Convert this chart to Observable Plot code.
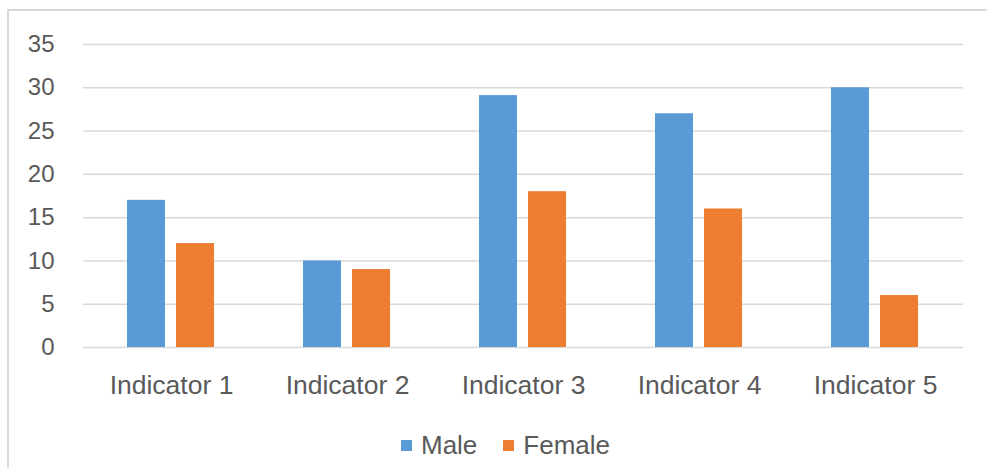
<!DOCTYPE html>
<html>
<head>
<meta charset="utf-8">
<script src="https://cdn.jsdelivr.net/npm/d3@7"></script>
<script src="https://cdn.jsdelivr.net/npm/@observablehq/plot@0.6"></script>
<style>
  html, body { margin: 0; padding: 0; background: #fff; }
  #wrap { position: relative; width: 987px; height: 468px; overflow: hidden; font-family: "Liberation Sans", Arial, sans-serif; }
  #frame { position: absolute; left: 7px; top: 9px; width: 990px; height: 470px; border-left: 2px solid #d9d9d9; border-top: 2px solid #d9d9d9; box-sizing: border-box; }
  #chart { position: absolute; left: 0; top: 0; }
  #chart g[aria-label^="fx-axis"] text { font-size: 26.5px; }
  #legend { position: absolute; left: 0; width: 987px; top: 430px; display: flex; justify-content: center; gap: 26px; font-size: 26px; color: #595959; padding-left: 24px; box-sizing: border-box;}
  .item { display: flex; align-items: center; gap: 9px; }
  .sw { width: 11px; height: 11px; display: inline-block; }
</style>
</head>
<body>
<div id="wrap">
  <div id="frame"></div>
  <div id="chart"></div>
  <div id="legend"></div>
</div>
<script>
const categories = ["Indicator 1", "Indicator 2", "Indicator 3", "Indicator 4", "Indicator 5"];
const series = ["Male", "Female"];
const maleValues = [17, 10, 29.1, 27, 30];
const femaleValues = [12, 9, 18, 16, 6];
const colors = ["#5b9bd5", "#ed7d31"];
const yTicks = [0, 5, 10, 15, 20, 25, 30, 35];

const data = [];
categories.forEach((c, i) => {
  data.push({category: c, series: "Male", value: maleValues[i]});
  data.push({category: c, series: "Female", value: femaleValues[i]});
});

const chart = Plot.plot({
  width: 987,
  height: 420,
  marginLeft: 83,
  marginRight: 24,
  marginTop: 44,
  marginBottom: 73,
  style: { fontFamily: "Liberation Sans, Arial, sans-serif", fontSize: "24px", color: "#595959", background: "transparent" },
  facet: { data, x: "category" },
  fx: { domain: categories, padding: 0, label: null, tickSize: 0, tickPadding: 28 },
  x: { domain: series, paddingInner: 0.22, paddingOuter: 0.88, axis: null },
  y: { domain: [0, 35], ticks: yTicks, tickSize: 0, tickPadding: 29, label: null },
  color: { domain: series, range: colors },
  marks: [
    Plot.ruleY(yTicks, { stroke: "#d9d9d9", strokeWidth: 1.5 }),
    Plot.barY(data, { x: "series", y: "value", fill: "series" })
  ]
});
document.getElementById("chart").appendChild(chart);

const legend = document.getElementById("legend");
series.forEach((s, i) => {
  const item = document.createElement("div");
  item.className = "item";
  const sw = document.createElement("span");
  sw.className = "sw";
  sw.style.background = colors[i];
  const t = document.createElement("span");
  t.textContent = s;
  item.appendChild(sw);
  item.appendChild(t);
  legend.appendChild(item);
});
</script>
</body>
</html>
